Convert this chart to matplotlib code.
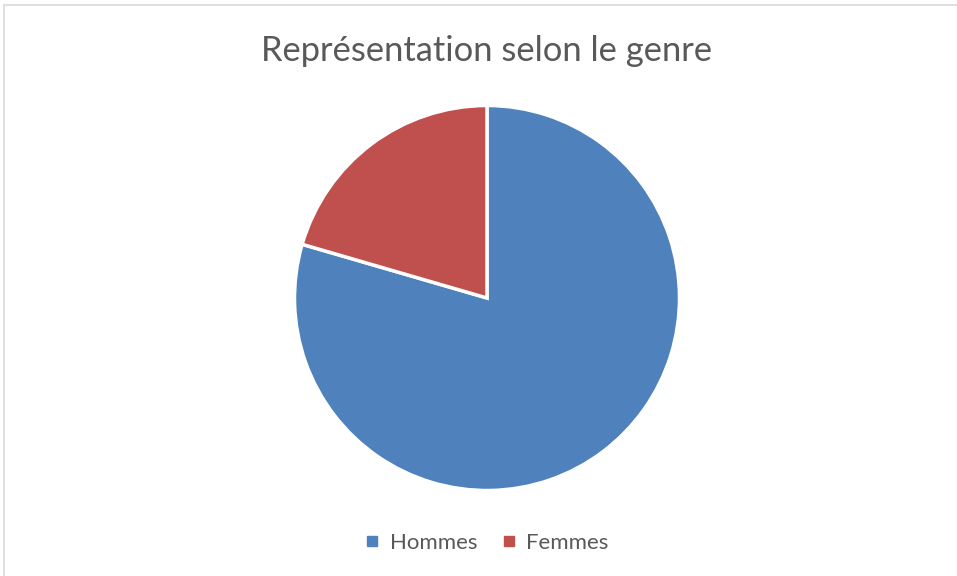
import matplotlib
matplotlib.use("Agg")
import matplotlib.pyplot as plt
from matplotlib.patches import Rectangle
from matplotlib.lines import Line2D

categories = ["Hommes", "Femmes"]
values = [79.5, 20.5]
colors = ["#4F81BD", "#C0504D"]
title = "Représentation selon le genre"

plt.rcParams['font.family'] = ['Lato', 'DejaVu Sans']

W, H = 957, 576
fig = plt.figure(figsize=(W/100, H/100), dpi=100)
ax = fig.add_axes([0, 0, 1, 1])
ax.pie(values, colors=colors, startangle=90, counterclock=False,
       center=(487, H - 298), radius=192.5, frame=True,
       wedgeprops=dict(edgecolor="white", linewidth=2.5))
ax.set_xlim(0, W)
ax.set_ylim(0, H)
ax.set_aspect('equal')
ax.axis('off')

# chart border
fig.patches.append(Rectangle((4/W, -0.01), 1.0, (H - 5)/H + 0.01, transform=fig.transFigure,
                             fill=False, edgecolor="#D9D9D9", linewidth=1.2))

fig.text(487/W, 1 - 51/H, title, ha='center', va='center', fontsize=24.8, color="#595959")

handles = [Line2D([0], [0], marker='s', linestyle='none', markersize=7,
                  markerfacecolor=c, markeredgecolor=c) for c in colors]
fig.legend(handles, categories, loc='center', bbox_to_anchor=(485/W, 1 - 543/H),
           ncol=2, frameon=False, fontsize=16, labelcolor="#595959",
           handletextpad=0.3, columnspacing=0.9, handlelength=1.0)

fig.savefig("out.png", dpi=100)
